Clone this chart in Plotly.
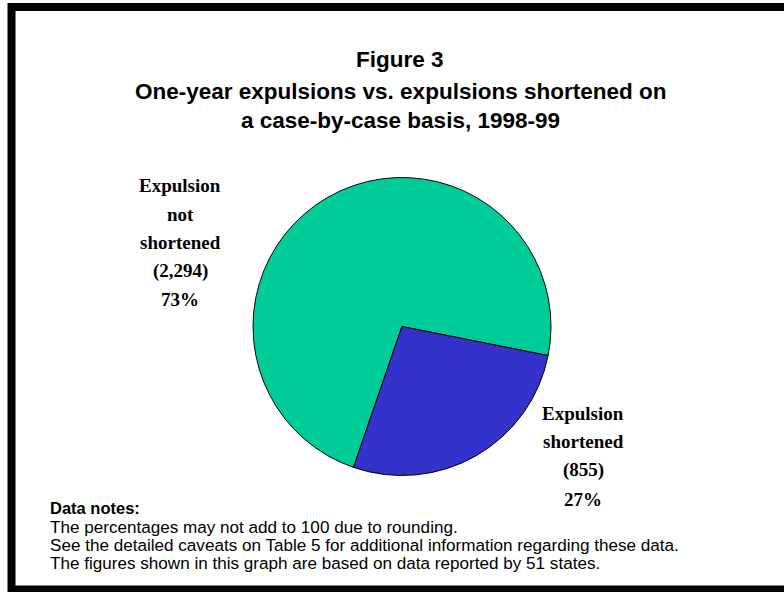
import plotly.graph_objects as go

# slices
labels = ["Expulsion not shortened", "Expulsion shortened"]
counts = [2294, 855]
colors = ["#00CC99", "#3333CC"]

title_lines = ["Figure 3",
               "One-year expulsions vs. expulsions shortened on",
               "a case-by-case basis, 1998-99"]
notes_head = "Data notes:"
notes = ["The percentages may not add to 100 due to rounding.",
         "See the detailed caveats on Table 5 for additional information regarding these data.",
         "The figures shown in this graph are based on data reported by 51 states."]

W, H = 784, 592
total = sum(counts)
pcts = [round(100 * c / total) for c in counts]

fig = go.Figure(go.Pie(
    labels=labels, values=counts, sort=False,
    direction="counterclockwise", rotation=199,
    marker=dict(colors=colors, line=dict(color="black", width=1)),
    textinfo="none", hoverinfo="label+value+percent", showlegend=False,
    domain=dict(x=[253 / W, 551 / W], y=[(H - 476) / H, (H - 177) / H]),
))

sans = "Liberation Sans, Arial, sans-serif"
serif = "Liberation Serif, Times New Roman, serif"
annotations = []


def add_lines(lines, x, ys, font, anchor="center"):
    # one annotation per line so the line spacing matches the original
    for txt, y in zip(lines, ys):
        annotations.append(dict(text=txt, x=x / W, y=1 - y / H, xref="paper", yref="paper",
                                xanchor=anchor, yanchor="middle", showarrow=False, font=font))


add_lines(title_lines, 400, [60, 91, 120],
          dict(family=sans, size=22.5, color="black", weight="bold"))

lab_font = dict(family=serif, size=19, color="black", weight="bold")
left_lines = ["Expulsion", "not", "shortened", "({:,})".format(counts[0]), "{}%".format(pcts[0])]
right_lines = ["Expulsion", "shortened", "({:,})".format(counts[1]), "{}%".format(pcts[1])]
add_lines(left_lines, 180, [185, 214, 242, 271, 299], lab_font)
add_lines(right_lines, 583, [413, 441, 470, 499], lab_font)

add_lines([notes_head], 48, [508], dict(family=sans, size=16.5, color="black", weight="bold"), "left")
add_lines(notes, 48, [527, 545, 563], dict(family=sans, size=17.1, color="black"), "left")

fig.update_layout(
    width=W, height=H, margin=dict(l=0, r=0, t=0, b=0),
    paper_bgcolor="white", plot_bgcolor="white",
    annotations=annotations,
    shapes=[dict(type="rect", xref="paper", yref="paper",
                 x0=11.5 / W, x1=1.05, y0=(H - 589.5) / H, y1=1 - 7 / H,
                 line=dict(color="black", width=8))],
)

fig.write_html("out.html", config={"displayModeBar": False},
               post_script="document.body.style.margin='0';")
